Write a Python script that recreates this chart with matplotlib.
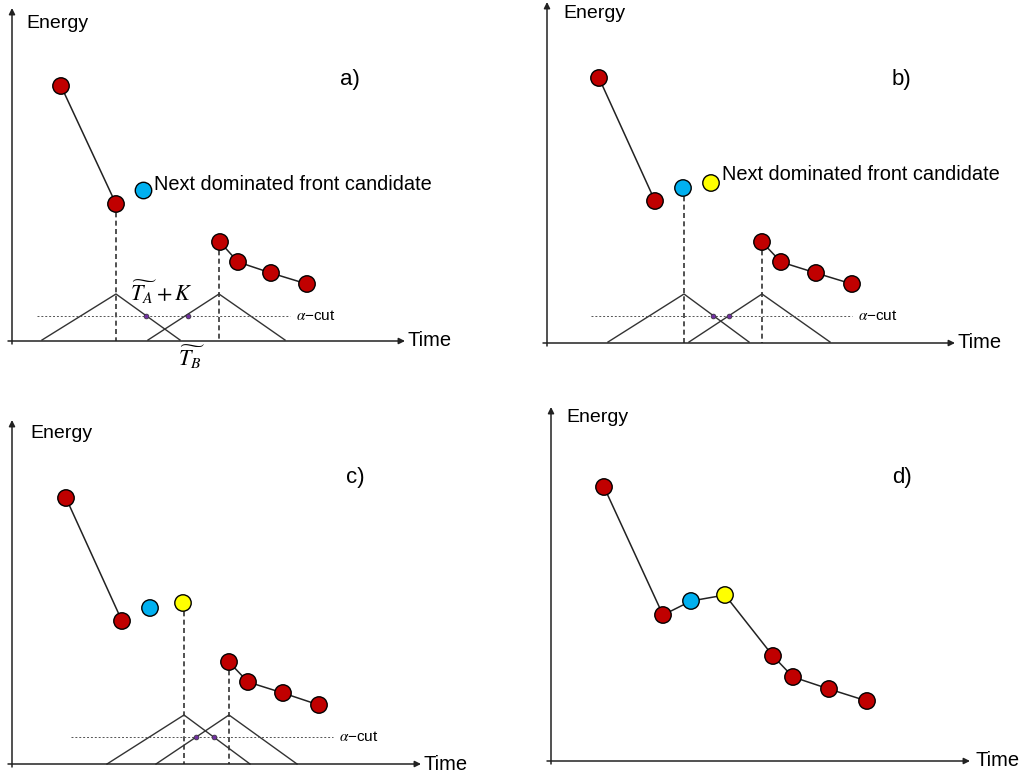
import matplotlib.pyplot as plt

plt.rcParams['font.family'] = ['Liberation Sans', 'DejaVu Sans']
plt.rcParams['mathtext.fontset'] = 'stix'

RED, BLUE, YELLOW = '#C00000', '#00B0F0', '#FFFF00'

# ---- panel data (figure coordinates in pixels, y downward) ----
# panel a)
a_front_x = [61, 116]
a_front_y = [86, 204]
a_blue = (143, 190)
a_tail_x = [220, 238, 271, 307]
a_tail_y = [242, 262, 273, 284]
a_tri1 = ([42, 116, 180], [340, 294, 340])
a_tri2 = ([148, 219, 285], [340, 294, 340])
a_vlines = [(116, 204), (219, 242)]
a_cut_y, a_cut_x = 316, (37, 290)
a_cut_pts = [146, 188]

# panel b)
b_front_x = [599, 655]
b_front_y = [78, 201]
b_blue = (683, 188)
b_yellow = (711, 183)
b_tail_x = [762, 781, 816, 852]
b_tail_y = [242, 262, 273, 284]
b_tri1 = ([608, 684, 749], [342, 294, 342])
b_tri2 = ([689, 762, 830], [342, 294, 342])
b_vlines = [(684, 188), (762, 242)]
b_cut_y, b_cut_x = 316, (591, 852)
b_cut_pts = [713, 729]

# panel c)
c_front_x = [66, 122]
c_front_y = [498, 621]
c_blue = (150, 608)
c_yellow = (183, 603)
c_tail_x = [229, 248, 283, 319]
c_tail_y = [662, 682, 693, 705]
c_tri1 = ([107, 184, 250], [764, 715, 764])
c_tri2 = ([156, 229, 297], [764, 715, 764])
c_vlines = [(184, 603), (229, 662)]
c_cut_y, c_cut_x = 737, (71, 333)
c_cut_pts = [196, 214]

# panel d)
d_x = [604, 663, 691, 725, 773, 793, 829, 867]
d_y = [487, 615, 601, 595, 656, 677, 689, 701]
d_col = [RED, RED, BLUE, YELLOW, RED, RED, RED, RED]

fig = plt.figure(figsize=(10.23, 7.76), dpi=100)
ax = fig.add_axes([0, 0, 1, 1])
ax.set_xlim(0, 1023)
ax.set_ylim(776, 0)
ax.axis('off')


def frame(x0, ybot, ytop, xleft, xend, ex, ey, tx, ty):
    ap = dict(arrowstyle='-|>', color='#222222', lw=1.1, mutation_scale=9, shrinkA=0, shrinkB=0)
    ax.annotate('', xy=(x0, ytop), xytext=(x0, ybot + 3), arrowprops=ap)
    ax.annotate('', xy=(xend, ybot), xytext=(xleft, ybot), arrowprops=ap)
    ax.text(ex, ey, 'Energy', fontsize=14, va='center', ha='left')
    ax.text(tx, ty, 'Time', fontsize=14.5, va='center', ha='left')


def dots(xs, ys, colors, line=True):
    if line:
        ax.plot(xs, ys, color='#222222', lw=1.1, zorder=2)
    ax.scatter(xs, ys, s=140, c=colors, edgecolors='black', linewidths=1.0, zorder=3)


def fuzzy(tri1, tri2, vlines, cut_y, cut_x, cut_pts, base_y):
    for tx, ty in (tri1, tri2):
        ax.plot(tx, ty, color='#333333', lw=1.0, zorder=1)
    for vx, vy in vlines:
        ax.plot([vx, vx], [vy, base_y], color='#333333', lw=1.2, ls=(0, (3, 2)), zorder=1)
    ax.plot(cut_x, [cut_y, cut_y], color='#555555', lw=0.7, ls=(0, (2, 2)), zorder=1)
    ax.scatter(cut_pts, [cut_y] * len(cut_pts), s=12, c='#7030A0', edgecolors='#333333',
               linewidths=0.5, zorder=3)
    ax.text(cut_x[1] + 6, cut_y, r'$\alpha$' + '\u2212cut', fontsize=11, va='center', ha='left')


# a)
frame(12, 341, 8, 8, 405, 26, 23, 407, 340)
fuzzy(a_tri1, a_tri2, a_vlines, a_cut_y, a_cut_x, a_cut_pts, 341)
dots(a_front_x, a_front_y, [RED, RED])
dots(a_tail_x, a_tail_y, [RED] * 4)
dots([a_blue[0]], [a_blue[1]], [BLUE], line=False)
ax.text(154, 185, 'Next dominated front candidate', fontsize=14.4, va='center', ha='left')
ax.text(130, 292, r'$\widetilde{T_A}+K$', fontsize=16, va='center', ha='left')
ax.text(178, 357, r'$\widetilde{T_B}$', fontsize=16, va='center', ha='left')
ax.text(340, 80, 'a)', fontsize=16, va='center', ha='left')

# b)
frame(547, 343, 2, 543, 955, 563, 13, 957, 342)
fuzzy(b_tri1, b_tri2, b_vlines, b_cut_y, b_cut_x, b_cut_pts, 343)
dots(b_front_x, b_front_y, [RED, RED])
dots(b_tail_x, b_tail_y, [RED] * 4)
dots([b_blue[0], b_yellow[0]], [b_blue[1], b_yellow[1]], [BLUE, YELLOW], line=False)
ax.text(722, 175, 'Next dominated front candidate', fontsize=14.4, va='center', ha='left')
ax.text(892, 80, 'b)', fontsize=16, va='center', ha='left')

# c)
frame(12, 764, 420, 8, 421, 30, 433, 423, 764)
fuzzy(c_tri1, c_tri2, c_vlines, c_cut_y, c_cut_x, c_cut_pts, 764)
dots(c_front_x, c_front_y, [RED, RED])
dots(c_tail_x, c_tail_y, [RED] * 4)
dots([c_blue[0], c_yellow[0]], [c_blue[1], c_yellow[1]], [BLUE, YELLOW], line=False)
ax.text(346, 478, 'c)', fontsize=16, va='center', ha='left')

# d)
frame(551, 761, 407, 547, 970, 566, 418, 975, 761)
dots(d_x, d_y, d_col)
ax.text(892, 478, 'd)', fontsize=16, va='center', ha='left')

fig.savefig('out.png', dpi=100)
